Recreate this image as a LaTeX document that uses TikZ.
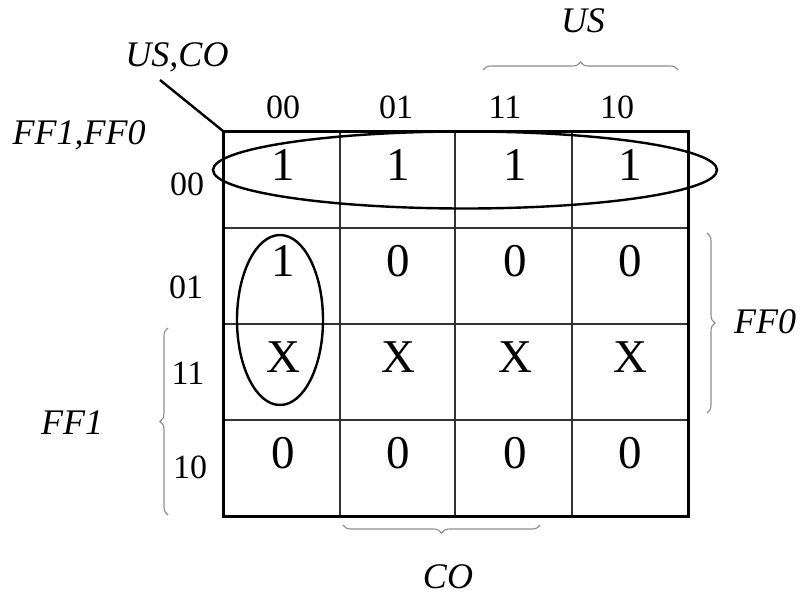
\documentclass[tikz,border=0pt]{standalone}
\usepackage{fontspec}
\setmainfont{Liberation Serif}
\usetikzlibrary{decorations.pathreplacing}
\begin{document}
\begin{tikzpicture}[x=1pt,y=-1pt,
  cellval/.style={inner sep=0pt,font=\fontsize{47}{52}\selectfont},
  axislbl/.style={inner sep=0pt,font=\fontsize{34}{38}\selectfont},
  varlbl/.style={inner sep=0pt,font=\fontsize{36}{40}\selectfont\itshape},
  bracestyle/.style={draw=black!45,line width=1.1pt,decorate,decoration={brace,amplitude=8pt}},
  loopstyle/.style={draw=black,line width=2.4pt},
  gridinner/.style={draw=black!80,line width=1.3pt},
  gridouter/.style={draw=black,line width=3pt}]
\useasboundingbox (0,0) rectangle (801,594);
\fill[white] (0,0) rectangle (801,594);

% Karnaugh map grid
\coordinate (corner) at (223,131);
\foreach \x in {340,455,572} \draw[gridinner] (\x,131) -- (\x,516);
\foreach \y in {228,324,420} \draw[gridinner] (223,\y) -- (688,\y);
\draw[gridouter] (corner) rectangle (688,516);

% column and row codes
\node[axislbl] (c00) at (283,107) {00};
\node[axislbl] (c01) at (396,107) {01};
\node[axislbl] (c11) at (505,107) {11};
\node[axislbl] (c10) at (617,107) {10};
\node[axislbl] (r00) at (187,184) {00};
\node[axislbl] (r01) at (186,287) {01};
\node[axislbl] (r11) at (188,373) {11};
\node[axislbl] (r10) at (190,467) {10};

% cell values
\foreach \v/\x [count=\i] in {1/283,1/398,1/515,1/630} \node[cellval] (a\i) at (\x,165) {\v};
\foreach \v/\x [count=\i] in {1/283,0/398,0/515,0/630} \node[cellval] (b\i) at (\x,261) {\v};
\foreach \v/\x [count=\i] in {X/283,X/398,X/515,X/630} \node[cellval] (d\i) at (\x,357) {\v};
\foreach \v/\x [count=\i] in {0/283,0/398,0/515,0/630} \node[cellval] (e\i) at (\x,453) {\v};

% groupings
\draw[loopstyle] (465,170) ellipse [x radius=252, y radius=38.5];
\draw[loopstyle] (280,320) ellipse [x radius=43, y radius=85];

% variable names and diagonal
\node[varlbl] (usco) at (177,57) {US,CO};
\node[varlbl] (ffs) at (79,135) {FF1,FF0};
\coordinate (diagstart) at (160,80);
\draw[line width=2.4pt] (diagstart) -- (corner);

% braces
\coordinate (usL) at (483,70); \coordinate (usR) at (678,70);
\draw[bracestyle] (usL) -- (usR);
\node[varlbl] (us) at (583,21) {US};
\coordinate (coR) at (540,525); \coordinate (coL) at (343,525);
\draw[bracestyle] (coR) -- (coL);
\node[varlbl] (co) at (448,577) {CO};
\coordinate (f0T) at (707,233); \coordinate (f0B) at (707,413);
\draw[bracestyle] (f0T) -- (f0B);
\node[varlbl] (ff0) at (765,322) {FF0};
\coordinate (f1B) at (168,515); \coordinate (f1T) at (168,328);
\draw[bracestyle] (f1B) -- (f1T);
\node[varlbl] (ff1) at (72,423) {FF1};
\end{tikzpicture}
\end{document}
